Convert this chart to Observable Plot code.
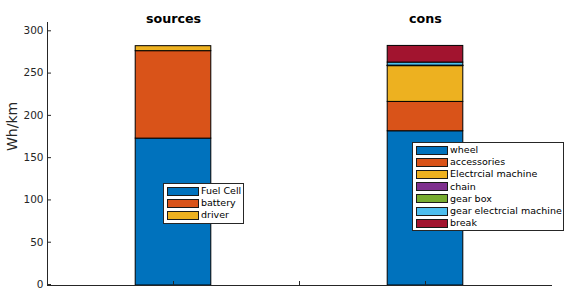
<!DOCTYPE html>
<html><head><meta charset="utf-8">
<script src="https://cdn.jsdelivr.net/npm/d3@7"></script>
<script src="https://cdn.jsdelivr.net/npm/@observablehq/plot@0.6"></script>
<style>
body{margin:0;background:#fff;font-family:"DejaVu Sans",sans-serif;}
#wrap{position:relative;width:565px;height:289px;}
.legend{position:absolute;background:#fff;border:1px solid #262626;font-size:9.5px;color:#000;padding:1px 3px 1px 3px;line-height:12.2px;}
.legend .row{display:flex;align-items:center;white-space:nowrap;}
.legend .sw{width:30px;height:7px;border:1px solid #1a1a1a;margin-right:2px;flex:none;}
</style></head>
<body><div id="wrap"></div>
<script>
const groups = ["sources", "cons"];
const groupPos = [1, 2];
const sourceNames = ["Fuel Cell", "battery", "driver"];
const sourceValues = [173.7, 103.4, 5.9];
const consNames = ["wheel", "accessories", "Electrcial machine", "chain", "gear box", "gear electrcial machine", "break"];
const consValues = [182.4, 34.7, 42.3, 0.3, 0.3, 3.6, 19.7];
const yTicks = [0, 50, 100, 150, 200, 250, 300];
const xTicks = [1, 1.5, 2];
const colors = ["#0072BD", "#D95319", "#EDB120", "#7E2F8E", "#77AC30", "#4DBEEE", "#A2142F"];
const halfWidth = 0.15;

function stackRows(names, values, pos) {
  let acc = 0;
  return names.map((n, i) => {
    const r = {name: n, pos, x1: pos - halfWidth, x2: pos + halfWidth, y1: acc, y2: acc + values[i], color: colors[i]};
    acc += values[i];
    return r;
  });
}
const rows = [...stackRows(sourceNames, sourceValues, groupPos[0]), ...stackRows(consNames, consValues, groupPos[1])];
const titles = groups.map((g, i) => ({g, pos: groupPos[i]}));

const chart = Plot.plot({
  width: 565, height: 289,
  marginLeft: 47, marginRight: 14, marginTop: 22, marginBottom: 4,
  style: {fontFamily: "DejaVu Sans, sans-serif", fontSize: "10px", color: "#262626", background: "#fff"},
  x: {domain: [0.5, 2.5], axis: null},
  y: {domain: [0, 311], axis: null},
  marks: [
    Plot.rect(rows, {x1: "x1", x2: "x2", y1: "y1", y2: "y2", fill: "color", stroke: "#000", strokeWidth: 1}),
    Plot.axisY({ticks: yTicks, tickSize: -4, tickPadding: 8, label: null, stroke: "#262626", fill: "#262626", fontSize: 10.5, dy: -1}),
    Plot.axisX({ticks: xTicks, tickSize: -4, tickFormat: () => "", label: null, stroke: "#262626"}),
    Plot.frame({anchor: "left", stroke: "#262626"}),
    Plot.frame({anchor: "bottom", stroke: "#262626"}),
    Plot.text(titles, {x: "pos", text: "g", frameAnchor: "top", dy: -9, fontWeight: "bold", fontSize: 12.7, fill: "#000"}),
    Plot.text(["Wh/km"], {text: d => d, frameAnchor: "left", dx: -35, dy: -3, rotate: -90, fontSize: 14, fill: "#262626"})
  ]
});
const wrap = document.getElementById("wrap");
wrap.appendChild(chart);

function legend(names, left, top, width) {
  const div = document.createElement("div");
  div.className = "legend";
  div.style.left = left + "px"; div.style.top = top + "px"; div.style.width = width + "px";
  names.forEach((n, i) => {
    const r = document.createElement("div"); r.className = "row";
    const s = document.createElement("div"); s.className = "sw"; s.style.background = colors[i];
    const t = document.createElement("span"); t.textContent = n;
    r.appendChild(s); r.appendChild(t); div.appendChild(r);
  });
  wrap.appendChild(div);
}
legend(sourceNames, 163, 183, 73);
legend(consNames, 412, 142, 144);
</script></body></html>
